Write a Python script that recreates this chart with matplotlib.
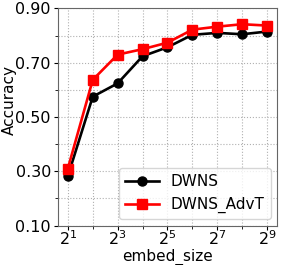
import matplotlib
matplotlib.use("Agg")
import matplotlib.pyplot as plt
from matplotlib.ticker import FixedLocator, NullFormatter

embed_size = [2, 4, 8, 16, 32, 64, 128, 256, 512]
dwns = [0.282, 0.575, 0.624, 0.724, 0.757, 0.803, 0.810, 0.805, 0.815]
dwns_advt = [0.310, 0.637, 0.730, 0.750, 0.774, 0.822, 0.833, 0.842, 0.837]
yticks = [0.10, 0.30, 0.50, 0.70, 0.90]
yminor = [0.20, 0.40, 0.60, 0.80]

fig = plt.figure(figsize=(2.81, 2.65), dpi=100)
ax = fig.add_axes([0.206, 0.149, 0.780, 0.819])
ax.plot(embed_size, dwns, color='black', marker='o', lw=1.9, ms=6.5, label='DWNS')
ax.plot(embed_size, dwns_advt, color='red', marker='s', lw=1.9, ms=6.5, label='DWNS_AdvT')
ax.set_xscale('log', base=2)
ax.set_xticks([2, 8, 32, 128, 512])
ax.set_xticklabels([r'$2^{1}$', r'$2^{3}$', r'$2^{5}$', r'$2^{7}$', r'$2^{9}$'])
ax.xaxis.set_minor_locator(FixedLocator([4, 16, 64, 256]))
ax.xaxis.set_minor_formatter(NullFormatter())
ax.set_ylim(0.10, 0.90)
ax.set_yticks(yticks)
ax.set_yticklabels(['%.2f' % v for v in yticks])
ax.set_yticks(yminor, minor=True)
ax.grid(True, which='both', ls=':', color='#b0b0b0', lw=0.8)
ax.tick_params(labelsize=11.5, length=3, pad=2)
ax.tick_params(axis='x', pad=0)
ax.tick_params(which='minor', length=2)
for s in ax.spines.values():
    s.set_color('#666666')
ax.set_xlabel('embed_size', fontsize=11, labelpad=0)
ax.set_ylabel('Accuracy', fontsize=11)
ax.yaxis.set_label_coords(-0.185, 0.577)
ax.legend(loc='lower right', fontsize=11, handlelength=2.2, borderaxespad=0.4)
fig.savefig('out.png', dpi=100)
